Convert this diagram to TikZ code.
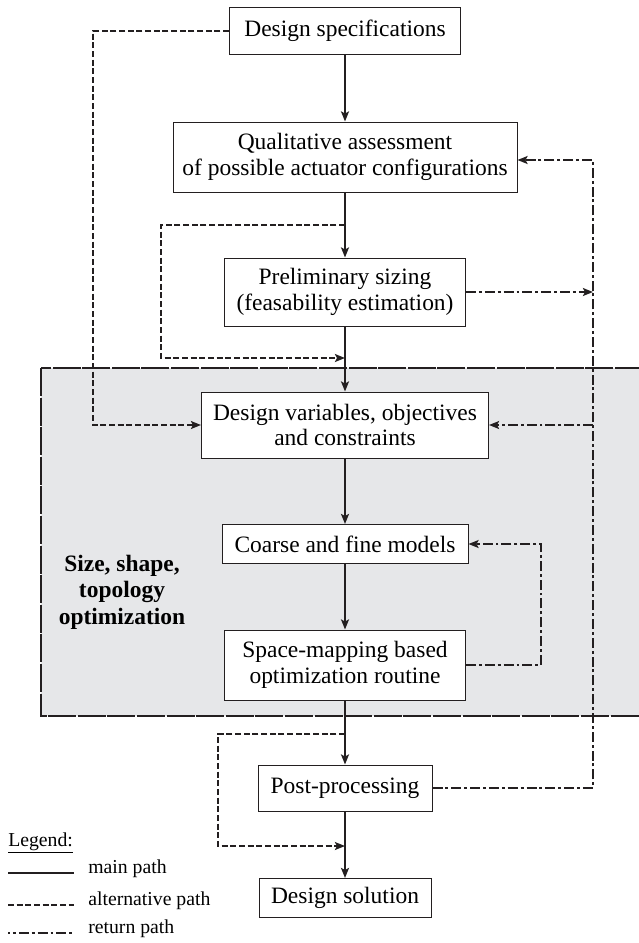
\documentclass[tikz,border=0pt]{standalone}
\usepackage{fontspec}
\setmainfont{Liberation Serif}
\usetikzlibrary{arrows.meta}
\definecolor{regionfill}{HTML}{E6E7E9}
\definecolor{ink}{HTML}{231F20}
\begin{document}
\begin{tikzpicture}[x=0.75pt,y=-0.75pt,
  box/.style={draw=ink, line width=0.75pt, fill=white, align=center, inner sep=0pt,
    font=\fontsize{17.6}{19.4}\selectfont},
  tip/.style={-{Stealth[length=7.6pt,width=6pt,inset=1.6pt]}},
  mainp/.style={draw=ink, line width=1.15pt},
  altp/.style={draw=ink, line width=1.15pt, dash pattern=on 4.5pt off 2pt},
  retp/.style={draw=ink, line width=1.15pt, dash pattern=on 7.5pt off 2.2pt on 2.2pt off 2.2pt},
  legendtext/.style={anchor=base west, inner sep=0pt, font=\fontsize{14.8}{17}\selectfont},
]
\useasboundingbox (0,0) rectangle (639,943);
\fill[white] (0,0) rectangle (639,943);

% shaded optimisation region, running off the right edge
\begin{scope}
  \clip (0,0) rectangle (639,943);
  \draw[fill=regionfill, draw=ink, line width=1.3pt, dash pattern=on 21pt off 1.2pt]
    (41,368) rectangle (660,716);
\end{scope}
\node[align=center, inner sep=0pt, font=\fontsize{17.6}{19.9}\selectfont\bfseries]
  (region) at (122,592) {Size, shape,\\topology\\optimization};

% branch points and side rails
\coordinate (a1s) at (345,225);
\coordinate (a1e) at (345,358);
\coordinate (a1x) at (161,0);
\coordinate (a2s) at (345,734);
\coordinate (a2e) at (345,846);
\coordinate (a2x) at (218,0);
\coordinate (a3x) at (93,0);
\coordinate (rx) at (593,160);
\coordinate (ix) at (541,0);

% process boxes
\node[box, minimum width=231pt*0.75, minimum height=47pt*0.75] (spec) at (345,31) {Design specifications};
\node[box, minimum width=344pt*0.75, minimum height=70pt*0.75] (qual) at (345,157) {Qualitative assessment\\of possible actuator configurations};
\node[box, minimum width=241pt*0.75, minimum height=68pt*0.75] (prelim) at (345,292) {Preliminary sizing\\(feasability estimation)};
\node[box, minimum width=287pt*0.75, minimum height=66pt*0.75] (desvar) at (345,425) {Design variables, objectives\\and constraints};
\node[box, minimum width=246pt*0.75, minimum height=39pt*0.75] (coarse) at (345,544) {Coarse and fine models};
\node[box, minimum width=241pt*0.75, minimum height=70pt*0.75] (space) at (345,665) {Space-mapping based\\optimization routine};
\node[box, minimum width=174pt*0.75, minimum height=46pt*0.75] (post) at (345,788) {Post-processing};
\node[box, minimum width=172pt*0.75, minimum height=39pt*0.75] (sol) at (345,898) {Design solution};

% main path
\draw[mainp,tip] (spec) -- (qual);
\draw[mainp,tip] (qual) -- (prelim);
\draw[mainp,tip] (prelim) -- (desvar);
\draw[mainp,tip] (desvar) -- (coarse);
\draw[mainp,tip] (coarse) -- (space);
\draw[mainp,tip] (space) -- (post);
\draw[mainp,tip] (post) -- (sol);

% alternative paths
\draw[altp,tip] (a1s) -- (a1s -| a1x) -- (a1x |- a1e) -- (a1e);
\draw[altp,tip] (a2s) -- (a2s -| a2x) -- (a2x |- a2e) -- (a2e);
\draw[altp,tip] (spec.west) -- (spec.west -| a3x) -- (a3x |- desvar.west) -- (desvar.west);

% return paths
\draw[retp,tip] (post.east) -| (rx) -- (rx -| qual.east);
\draw[retp,tip] (rx |- desvar.east) -- (desvar.east);
\draw[retp,tip] (prelim.east) -- (prelim.east -| rx);
\draw[retp,tip] (space.east) -- (space.east -| ix) -- (ix |- coarse.east) -- (coarse.east);

% legend
\node[legendtext] (lg) at (8,846) {\underline{Legend:}};
\coordinate (l1a) at (8,873);  \coordinate (l1b) at (74,873);
\coordinate (l2a) at (8,905);  \coordinate (l2b) at (74,905);
\coordinate (l3a) at (8,933);  \coordinate (l3b) at (74,933);
\draw[mainp] (l1a) -- (l1b);
\draw[altp] (l2a) -- (l2b);
\draw[retp, dash phase=6pt] (l3a) -- (l3b);
\node[legendtext] (lt1) at (88,873) {main path};
\node[legendtext] (lt2) at (88,905) {alternative path};
\node[legendtext] (lt3) at (88,933) {return path};
\end{tikzpicture}
\end{document}
